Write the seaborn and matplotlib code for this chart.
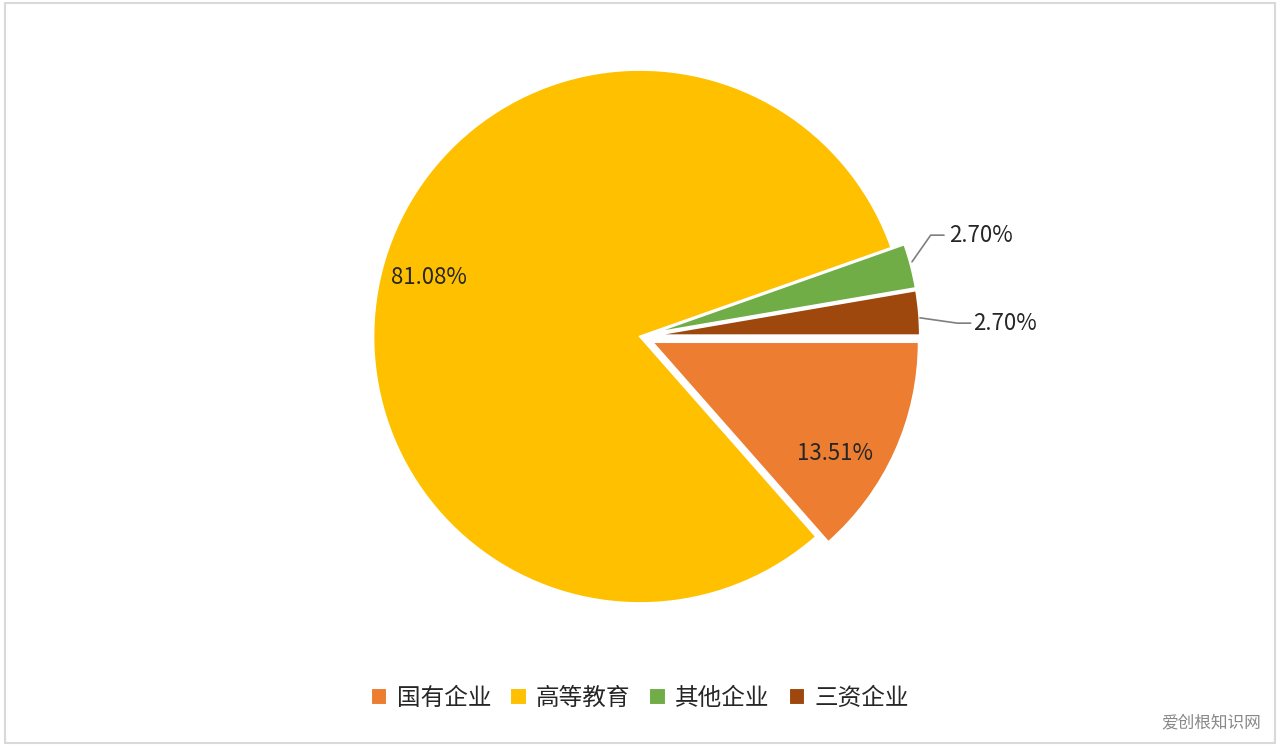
import matplotlib
matplotlib.use("Agg")
import matplotlib.pyplot as plt
import seaborn as sns

sns.set_theme(style="white")
plt.rcParams['font.family'] = ['Noto Sans CJK SC', 'DejaVu Sans']

categories = ["国有企业", "高等教育", "其他企业", "三资企业"]
values = [13.51, 81.08, 2.70, 2.70]
colors = ["#ED7D31", "#FFC000", "#70AD47", "#9E480E"]
explode = [0.05, 0.0, 0.05, 0.05]

fig = plt.figure(figsize=(12.8, 7.46), dpi=100)
ax = fig.add_axes([0.0, 0.09, 1.0, 0.9])
wedges, _ = ax.pie(values, colors=colors, startangle=0, counterclock=False,
                   explode=explode, radius=1.0,
                   wedgeprops=dict(edgecolor="white", linewidth=1.5))
ax.set_aspect("equal")
ax.set_xlim(-2.4, 2.4)
ax.set_ylim(-1.15, 1.1)

ax.text(-0.79, 0.22, "81.08%", fontsize=16, ha="center", va="center")
ax.text(0.73, -0.44, "13.51%", fontsize=16, ha="center", va="center")
ax.plot([1.02, 1.09, 1.14], [0.28, 0.38, 0.38], color="#7f7f7f", lw=1.2)
ax.text(1.16, 0.38, "2.70%", fontsize=16, ha="left", va="center")
ax.plot([1.05, 1.19, 1.24], [0.07, 0.05, 0.05], color="#7f7f7f", lw=1.2)
ax.text(1.25, 0.05, "2.70%", fontsize=16, ha="left", va="center")

fig.legend(wedges, categories, loc="lower center", ncol=4, frameon=False,
           fontsize=17, bbox_to_anchor=(0.5, 0.02), handlelength=0.7,
           handleheight=0.7, columnspacing=0.8, handletextpad=0.4)

fig.patches.append(plt.Rectangle((0.004, 0.004), 0.992, 0.992, transform=fig.transFigure,
                                 fill=False, edgecolor="#d9d9d9", lw=1.5))
fig.text(0.985, 0.02, "爱创根知识网", fontsize=12, color="#888888", ha="right", va="bottom")
fig.savefig("out.png", dpi=100, facecolor="white")
